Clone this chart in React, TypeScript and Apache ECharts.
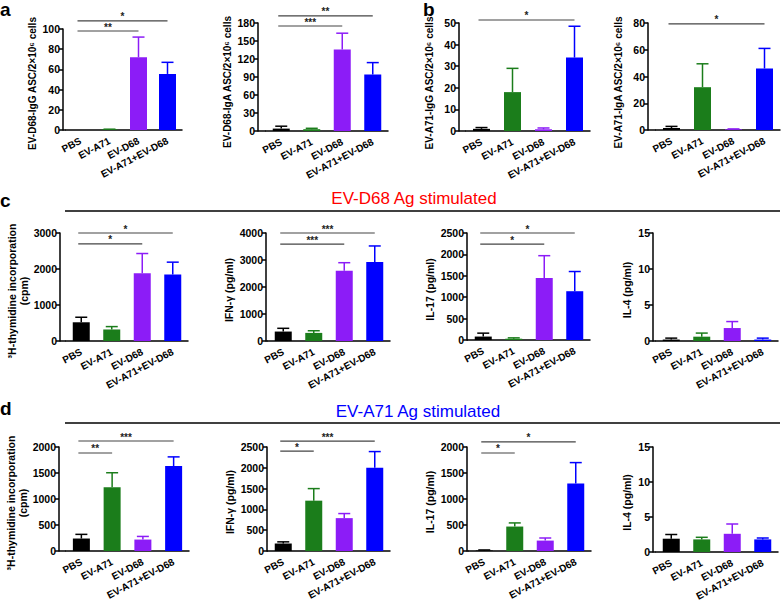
import React, { useEffect, useRef } from 'react';
import * as echarts from 'echarts';

const FONT = 'Liberation Sans, Arial, sans-serif';

const categories = ['PBS', 'EV-A71', 'EV-D68', 'EV-A71+EV-D68'];
const barColors = ['#000000', '#1b7d1b', '#8c1cf7', '#0000ff'];

// Panel a: EV-D68 specific ASC
const d68IgG = [0, 0.5, 72, 55.5];
const d68IgGErr = [0, 0.3, 20, 11.5];
const d68IgA = [4, 3, 136, 94];
const d68IgAErr = [4, 1.5, 27, 20];
// Panel b: EV-A71 specific ASC
const a71IgG = [1, 18, 0.8, 34];
const a71IgGErr = [0.6, 11, 0.6, 14.5];
const a71IgA = [1.5, 32, 0.5, 46];
const a71IgAErr = [1.2, 17.5, 0.3, 15];
// Panel c: EV-D68 Ag stimulated
const cThy = [520, 320, 1880, 1850];
const cThyErr = [140, 80, 550, 340];
const cIfn = [350, 300, 2600, 2930];
const cIfnErr = [120, 80, 300, 590];
const cIl17 = [80, 30, 1450, 1140];
const cIl17Err = [80, 20, 520, 460];
const cIl4 = [0.2, 0.6, 1.8, 0.2];
const cIl4Err = [0.2, 0.5, 0.9, 0.2];
// Panel d: EV-A71 Ag stimulated
const dThy = [240, 1225, 220, 1635];
const dThyErr = [80, 280, 60, 175];
const dIfn = [180, 1210, 790, 2000];
const dIfnErr = [40, 290, 110, 390];
const dIl17 = [10, 470, 200, 1300];
const dIl17Err = [10, 70, 50, 400];
const dIl4 = [1.9, 1.8, 2.6, 1.8];
const dIl4Err = [0.6, 0.3, 1.4, 0.2];

// significance brackets: [fromCategory, toCategory, level (axis units), label]
const sigA1 = [[0, 3, 108, '*'], [0, 2, 98, '**']];
const sigA2 = [[0, 3, 192, '**'], [0, 2, 175, '***']];
const sigB1 = [[0, 3, 51.4, '*']];
const sigB2 = [[0, 3, 79.3, '*']];
const sigC1 = [[0, 3, 3000, '*'], [0, 2, 2700, '*']];
const sigC2 = [[0, 3, 4000, '***'], [0, 2, 3590, '***']];
const sigC3 = [[0, 3, 2500, '*'], [0, 2, 2240, '*']];
const sigD1 = [[0, 3, 2115, '***'], [0, 1, 1885, '**']];
const sigD2 = [[0, 3, 2640, '***'], [0, 1, 2400, '*']];
const sigD3 = [[0, 3, 2100, '*'], [0, 1, 1885, '*']];

const ascName = (v: string, ig: string) => `${v}-${ig} ASC/2×10⁶ cells`;

const panels = [
  { mean: d68IgG, err: d68IgGErr, max: 100, interval: 20, name: ascName('EV-D68', 'IgG'), sig: sigA1, axisX: 63, x0: 66, x1: 182, top: 29, bottom: 130, gap: 25, fs: 10, shift: 8 },
  { mean: d68IgA, err: d68IgAErr, max: 180, interval: 30, name: ascName('EV-D68', 'IgA'), sig: sigA2, axisX: 258, x0: 266, x1: 388, top: 23, bottom: 131, gap: 25, fs: 10, shift: 10 },
  { mean: a71IgG, err: a71IgGErr, max: 50, interval: 10, name: ascName('EV-A71', 'IgG'), sig: sigB1, axisX: 459, x0: 466, x1: 590, top: 23, bottom: 131, gap: 24, fs: 10, shift: 12 },
  { mean: a71IgA, err: a71IgAErr, max: 80, interval: 20, name: ascName('EV-A71', 'IgA'), sig: sigB2, axisX: 648, x0: 656, x1: 780, top: 23, bottom: 130, gap: 24, fs: 10, shift: 12 },
  { mean: cThy, err: cThyErr, max: 3000, interval: 1000, name: '³H-thymidine incorporation\n(cpm)', sig: sigC1, axisX: 60, x0: 66, x1: 188, top: 233, bottom: 341, gap: 24, fs: 10.5, shift: 8 },
  { mean: cIfn, err: cIfnErr, max: 4000, interval: 1000, name: 'IFN-γ (pg/ml)', sig: sigC2, axisX: 266, x0: 268, x1: 390, top: 233, bottom: 341, gap: 31, fs: 10.5, shift: 6 },
  { mean: cIl17, err: cIl17Err, max: 2500, interval: 500, name: 'IL-17 (pg/ml)', sig: sigC3, axisX: 467, x0: 468, x1: 590, top: 233, bottom: 340, gap: 31, fs: 10.5, shift: 6 },
  { mean: cIl4, err: cIl4Err, max: 15, interval: 5, name: 'IL-4 (pg/ml)', sig: [], axisX: 653, x0: 656, x1: 778, top: 233, bottom: 341, gap: 20, fs: 10.5, shift: 6 },
  { mean: dThy, err: dThyErr, max: 2000, interval: 500, name: '³H-thymidine incorporation\n(cpm)', sig: sigD1, axisX: 59, x0: 66, x1: 189, top: 447, bottom: 551, gap: 24, fs: 10.5, shift: 8 },
  { mean: dIfn, err: dIfnErr, max: 2500, interval: 500, name: 'IFN-γ (pg/ml)', sig: sigD2, axisX: 267, x0: 268, x1: 390, top: 447, bottom: 551, gap: 31, fs: 10.5, shift: 6 },
  { mean: dIl17, err: dIl17Err, max: 2000, interval: 500, name: 'IL-17 (pg/ml)', sig: sigD3, axisX: 467, x0: 469, x1: 591, top: 447, bottom: 551, gap: 31, fs: 10.5, shift: 6 },
  { mean: dIl4, err: dIl4Err, max: 15, interval: 5, name: 'IL-4 (pg/ml)', sig: [], axisX: 653, x0: 656, x1: 778, top: 447, bottom: 552, gap: 20, fs: 10.5, shift: 6 },
];

function buildOption() {
  const grid: any[] = [];
  const xAxis: any[] = [];
  const yAxis: any[] = [];
  const series: any[] = [];
  const graphic: any[] = [];

  panels.forEach((p, i) => {
    grid.push({ left: p.x0, top: p.top, width: p.x1 - p.x0, height: p.bottom - p.top });
    xAxis.push({
      type: 'category', gridIndex: i, data: categories,
      axisLine: { lineStyle: { color: '#000', width: 1.5 } },
      axisTick: { show: false },
      axisLabel: { interval: 0, rotate: 28, margin: 10, fontSize: 10, fontWeight: 'bold', color: '#000', fontFamily: FONT },
    });
    yAxis.push({
      type: 'value', gridIndex: i, min: 0, max: p.max, interval: p.interval,
      offset: p.x0 - p.axisX,
      axisLine: { show: true, lineStyle: { color: '#000', width: 1.5 } },
      axisTick: { show: true, length: 4, lineStyle: { color: '#000', width: 1.5 } },
      splitLine: { show: false },
      axisLabel: { fontSize: 10.5, fontWeight: 'bold', color: '#000', margin: 3, fontFamily: FONT, formatter: (v: number) => String(v) },
      name: p.name, nameLocation: 'middle', nameGap: p.gap,
      nameTextStyle: { fontSize: p.fs, fontWeight: 'bold', color: '#000', fontFamily: FONT, lineHeight: 12, padding: [0, p.shift, 0, 0] },
    });
    series.push({
      type: 'bar', xAxisIndex: i, yAxisIndex: i, barWidth: 17, silent: true,
      data: p.mean.map((v, j) => ({ value: v, itemStyle: { color: barColors[j] } })),
    });
    const err = p.err;
    series.push({
      type: 'custom', xAxisIndex: i, yAxisIndex: i, silent: true, z: 3,
      data: p.mean.map((v, j) => [j, v, err[j]]),
      renderItem: (params: any, api: any) => {
        const j = api.value(0);
        const m = api.value(1);
        const e = api.value(2);
        if (!e) return null;
        const a = api.coord([j, m]);
        const b = api.coord([j, m + e]);
        const c = barColors[j];
        return {
          type: 'group', children: [
            { type: 'line', shape: { x1: a[0], y1: a[1], x2: b[0], y2: b[1] }, style: { stroke: c, lineWidth: 1.5 } },
            { type: 'line', shape: { x1: b[0] - 6, y1: b[1], x2: b[0] + 6, y2: b[1] }, style: { stroke: c, lineWidth: 1.5 } },
          ],
        };
      },
    });
    const sig = p.sig as any[];
    if (sig.length) {
      series.push({
        type: 'custom', xAxisIndex: i, yAxisIndex: i, silent: true, clip: false, z: 4,
        data: sig.map((s) => [s[0], s[2]]),
        renderItem: (params: any, api: any) => {
          const s = sig[params.dataIndex];
          const a = api.coord([s[0], s[2]]);
          const b = api.coord([s[1], s[2]]);
          const xa = a[0] - 3;
          return {
            type: 'group', children: [
              { type: 'line', shape: { x1: xa, y1: a[1], x2: b[0], y2: b[1] }, style: { stroke: '#444', lineWidth: 1.2 } },
              { type: 'text', x: (xa + b[0]) / 2, y: a[1] + 1, style: { text: s[3], fontSize: 10, fontWeight: 'bold', fontFamily: FONT, fill: '#222', align: 'center', verticalAlign: 'bottom' } },
            ],
          };
        },
      });
    }
    if (p.x0 > p.axisX) {
      graphic.push({ type: 'line', shape: { x1: p.axisX, y1: p.bottom, x2: p.x0, y2: p.bottom }, style: { stroke: '#000', lineWidth: 1.5 } });
    }
  });

  const letter = (t: string, x: number, y: number) => ({
    type: 'text', x, y, style: { text: t, fontSize: 19, fontWeight: 'bold', fontFamily: FONT, fill: '#000', verticalAlign: 'top' },
  });
  graphic.push(letter('a', 0, 0), letter('b', 423, 0), letter('c', 0, 191), letter('d', 0, 399));
  graphic.push({ type: 'text', x: 414, y: 198, style: { text: 'EV-D68 Ag stimulated', fontSize: 17, fontFamily: FONT, fill: '#ff0000', align: 'center', verticalAlign: 'middle' } });
  graphic.push({ type: 'text', x: 418, y: 411, style: { text: 'EV-A71 Ag stimulated', fontSize: 17, fontFamily: FONT, fill: '#0000ff', align: 'center', verticalAlign: 'middle' } });
  graphic.push({ type: 'line', shape: { x1: 65, y1: 211, x2: 780, y2: 211 }, style: { stroke: '#000', lineWidth: 1.5 } });
  graphic.push({ type: 'line', shape: { x1: 65, y1: 423, x2: 780, y2: 423 }, style: { stroke: '#000', lineWidth: 1.5 } });

  return { animation: false, backgroundColor: '#fff', grid, xAxis, yAxis, series, graphic };
}

export default function App() {
  const ref = useRef<HTMLDivElement>(null);
  useEffect(() => {
    if (!ref.current) return;
    const chart = echarts.init(ref.current, undefined, { renderer: 'svg' });
    chart.setOption(buildOption() as any);
    return () => chart.dispose();
  }, []);
  return <div ref={ref} style={{ position: 'absolute', left: 0, top: 0, width: 784, height: 607 }} />;
}
